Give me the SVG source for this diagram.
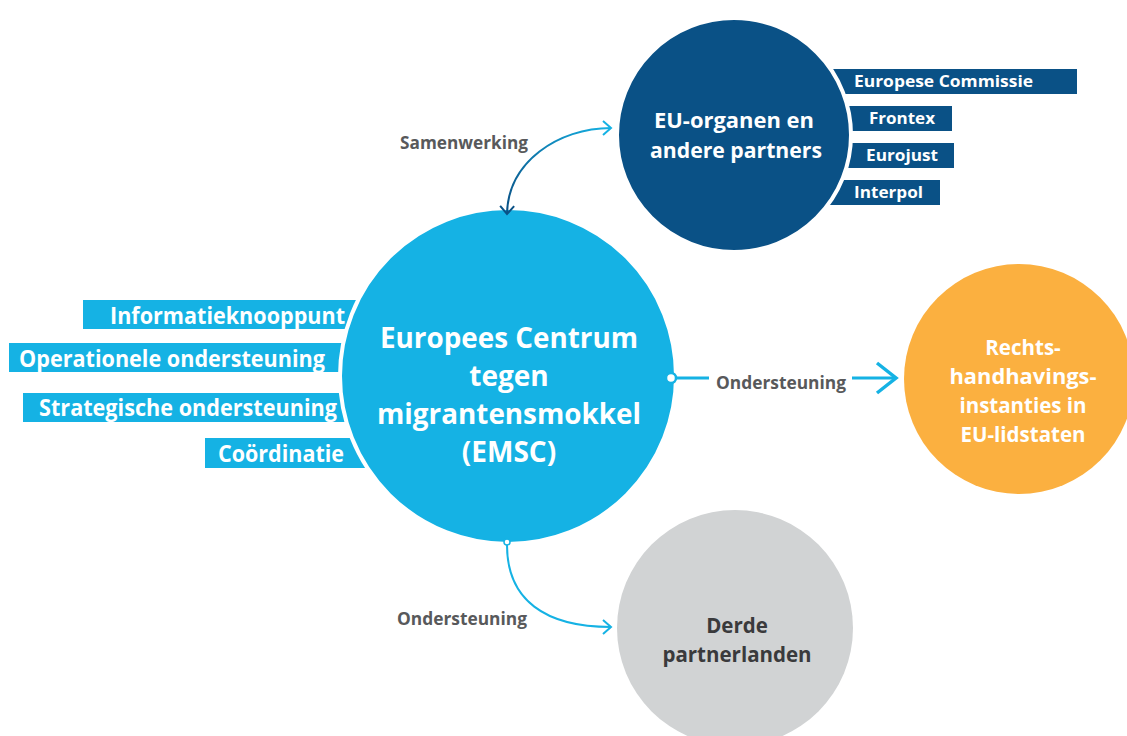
<svg xmlns="http://www.w3.org/2000/svg" width="1127" height="736" viewBox="0 0 1127 736">
<defs>
<style>
text{font-family:"Open Sans","Liberation Sans",sans-serif;font-weight:700}
.lab{fill:#58595b;font-size:17px}
.cyanbox{fill:#15b2e4}
.navybox{fill:#0a5186}
.lt{font-size:23px;fill:#fff}
.rt{font-size:16.5px;fill:#fff}
.big{font-size:28px;fill:#fff;text-anchor:middle}
.mid{font-size:20.5px;fill:#fff;text-anchor:middle}
</style>
<linearGradient id="gs" gradientUnits="userSpaceOnUse" x1="612" y1="128" x2="507" y2="213">
<stop offset="0" stop-color="#15b2e4"/>
<stop offset="1" stop-color="#0a5186"/>
</linearGradient>
<marker id="chC" markerUnits="userSpaceOnUse" viewBox="-10 -8 12 16" refX="0" refY="0" markerWidth="12" markerHeight="16" orient="auto" overflow="visible">
<path d="M -8 -7 L 0 0 L -8 7" fill="none" stroke="#15b2e4" stroke-width="2"/>
</marker>
<marker id="chN" markerUnits="userSpaceOnUse" viewBox="-10 -8 12 16" refX="0" refY="0" markerWidth="12" markerHeight="16" orient="auto-start-reverse" overflow="visible">
<path d="M -8 -7 L 0 0 L -8 7" fill="none" stroke="#0a5186" stroke-width="2"/>
</marker>
<marker id="chBig" markerUnits="userSpaceOnUse" viewBox="-22 -18 26 36" refX="0" refY="0" markerWidth="26" markerHeight="36" orient="auto" overflow="visible">
<path d="M -19 -15 L 0 0 L -19 15" fill="none" stroke="#15b2e4" stroke-width="3.5"/>
</marker>
</defs>

<g id="eu-partners">
<rect class="navybox" x="800" y="69" width="277" height="25"/>
<rect class="navybox" x="800" y="106" width="152" height="25"/>
<rect class="navybox" x="800" y="143" width="154" height="25"/>
<polygon class="navybox" points="838,180 940,180 940,205 829,205"/>
<circle cx="734" cy="135" r="117" fill="#0a5186" stroke="#fff" stroke-width="4"/>
<text class="mid" x="734" y="128" textLength="160" lengthAdjust="spacingAndGlyphs">EU-organen en</text>
<text class="mid" x="736" y="158" textLength="172" lengthAdjust="spacingAndGlyphs">andere partners</text>
<text class="rt" x="854" y="87" textLength="179" lengthAdjust="spacingAndGlyphs">Europese Commissie</text>
<text class="rt" x="869" y="124" textLength="66" lengthAdjust="spacingAndGlyphs">Frontex</text>
<text class="rt" x="866" y="161" textLength="72" lengthAdjust="spacingAndGlyphs">Eurojust</text>
<text class="rt" x="854" y="198" textLength="69" lengthAdjust="spacingAndGlyphs">Interpol</text>
</g>

<g id="emsc">
<rect class="cyanbox" x="83" y="300" width="300" height="29"/>
<rect class="cyanbox" x="9" y="343" width="370" height="29"/>
<rect class="cyanbox" x="23" y="393" width="360" height="29"/>
<rect class="cyanbox" x="205" y="438" width="180" height="30"/>
<circle cx="508" cy="376" r="168" fill="#15b2e4" stroke="#fff" stroke-width="4"/>
<text class="lt" x="110" y="324" textLength="235" lengthAdjust="spacingAndGlyphs">Informatieknooppunt</text>
<text class="lt" x="19" y="367" textLength="306" lengthAdjust="spacingAndGlyphs">Operationele ondersteuning</text>
<text class="lt" x="39" y="416" textLength="298" lengthAdjust="spacingAndGlyphs">Strategische ondersteuning</text>
<text class="lt" x="218" y="462" textLength="126" lengthAdjust="spacingAndGlyphs">Coördinatie</text>
<text class="big" x="509" y="348" textLength="258" lengthAdjust="spacingAndGlyphs">Europees Centrum</text>
<text class="big" x="509" y="386">tegen</text>
<text class="big" x="509" y="424" textLength="264" lengthAdjust="spacingAndGlyphs">migrantensmokkel</text>
<text class="big" x="509" y="462">(EMSC)</text>
</g>

<g id="rechtshandhaving">
<circle cx="1019" cy="379" r="115" fill="#fbb040"/>
<text class="mid" x="1023" y="355">Rechts-</text>
<text class="mid" x="1023" y="384" textLength="147" lengthAdjust="spacingAndGlyphs">handhavings-</text>
<text class="mid" x="1023" y="413">instanties in</text>
<text class="mid" x="1023" y="442">EU-lidstaten</text>
</g>

<g id="derde-landen">
<circle cx="735" cy="628" r="118" fill="#d1d3d4"/>
<text class="mid" x="737" y="633" style="fill:#3a3a3c">Derde</text>
<text class="mid" x="737" y="662" style="fill:#3a3a3c">partnerlanden</text>
</g>

<g id="connectors">
<path d="M 507 214 C 508 162 558 128 611 128" fill="none" stroke="url(#gs)" stroke-width="2" marker-start="url(#chN)" marker-end="url(#chC)"/>
<line x1="676" y1="378" x2="709" y2="378" stroke="#15b2e4" stroke-width="3"/>
<circle cx="671" cy="378" r="5" fill="#fff" stroke="#15b2e4" stroke-width="2.5"/>
<line x1="852" y1="378" x2="896" y2="378" stroke="#15b2e4" stroke-width="3" marker-end="url(#chBig)"/>
<path d="M 507 545 C 507 600 545 627 611 627" fill="none" stroke="#15b2e4" stroke-width="2" marker-end="url(#chC)"/>
<circle cx="507" cy="542" r="3" fill="#fff" stroke="#15b2e4" stroke-width="1.5"/>
<text class="lab" x="400" y="149" textLength="128" lengthAdjust="spacingAndGlyphs">Samenwerking</text>
<text class="lab" x="716" y="389" textLength="130" lengthAdjust="spacingAndGlyphs">Ondersteuning</text>
<text class="lab" x="397" y="625" textLength="130" lengthAdjust="spacingAndGlyphs">Ondersteuning</text>
</g>
</svg>
